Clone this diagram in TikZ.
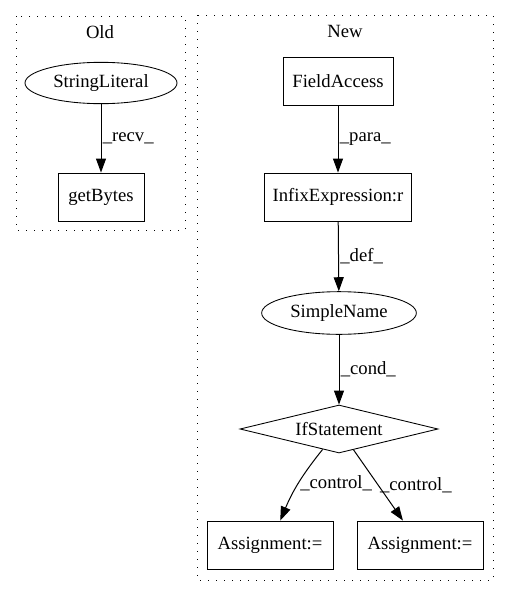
\documentclass[tikz,border=0pt]{standalone}
\usepackage{fontspec}
\setmainfont{Liberation Serif}
\usetikzlibrary{arrows.meta,shapes.geometric}
\begin{document}
\begin{tikzpicture}[x=0.75pt,y=-0.75pt,
	every node/.style={font=\fontsize{14pt}{16pt}\selectfont},
	box/.style={draw,line width=0.65pt,minimum height=36pt,inner sep=0pt},
	oval/.style={draw,ellipse,line width=0.65pt,inner sep=0pt},
	cond box/.style={draw,diamond,aspect=4,line width=0.65pt,inner sep=0pt},
	cluster/.style={line width=0.75pt,dash pattern=on 1pt off 5pt},
	flow/.style={line width=0.75pt,-{Triangle[length=10.5pt,width=7.5pt]}},
	lbl/.style={anchor=west,inner sep=1pt}]
	\useasboundingbox (0,0) rectangle (509,596);

	\draw[cluster] (16,16) rectangle (185,230);
	\draw[cluster] (197,15) rectangle (493,580);

	\node (old) at (100,32) {Old};
	\node (new) at (345,31) {New};

	\node[oval,minimum width=114pt,minimum height=31pt] (strlit) at (101,83) {StringLiteral};
	\node[box,minimum width=64.5pt] (getbytes) at (101,197) {getBytes};

	\node[box,minimum width=82.5pt] (fieldacc) at (338,81) {FieldAccess};
	\node[box,minimum width=110pt] (infix) at (338,197) {InfixExpression:r};
	\node[oval,minimum width=116pt,minimum height=32pt] (simplename) at (339,313) {SimpleName};
	\node[cond box,minimum width=148.5pt,minimum height=36pt] (ifstmt) at (339,429) {IfStatement};
	\node[box,minimum width=94.5pt] (assignL) at (270,545) {Assignment:=};
	\node[box,minimum width=94.5pt] (assignR) at (420,545) {Assignment:=};

	\draw[flow] (strlit) -- node[lbl] {\_recv\_} (getbytes);
	\draw[flow] (fieldacc) -- node[lbl] {\_para\_} (infix);
	\draw[flow] (infix) -- node[lbl] {\_def\_} (simplename);
	\draw[flow] (simplename) -- node[lbl] {\_cond\_} (ifstmt);
	\draw[flow] (ifstmt) to[bend right=8] node[lbl] {\_control\_} (assignL);
	\draw[flow] (ifstmt) -- node[lbl] {\_control\_} (assignR);
\end{tikzpicture}
\end{document}
